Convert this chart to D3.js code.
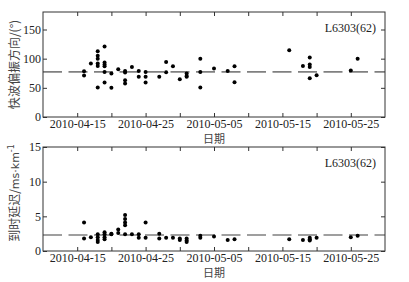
<!DOCTYPE html>
<html lang="zh">
<head>
  <meta charset="UTF-8">
  <title>L6303 splitting</title>
  <style>
  body { margin: 0; background: #fff; }
  .tick line { stroke: #333; }
  .frame { fill: none; stroke: #333; stroke-width: 1; }
  .mean { stroke: #808080; stroke-width: 1.6; stroke-dasharray: 19 6.5; }
  .cn { font-family: "Noto Sans CJK SC", sans-serif; font-size: 12px; fill: #444; }
  .tag { font-family: "Liberation Serif", serif; font-size: 12px; fill: #222; }
  </style>
</head>
<body>
  <script src="https://d3js.org/d3.v7.min.js"></script>
  <script>

    // fast wave polarisation (deg)
    var topDays = ["04-16","04-16","04-17","04-18","04-18","04-18","04-18","04-18","04-18",
                   "04-19","04-19","04-19","04-19","04-19","04-19","04-20","04-20","04-21",
                   "04-22","04-22","04-22","04-22","04-23","04-24","04-24","04-25","04-25","04-25",
                   "04-27","04-28","04-28","04-29","04-30","05-01","05-01","05-01",
                   "05-03","05-03","05-03","05-05","05-07","05-08","05-08","05-16","05-18",
                   "05-19","05-19","05-19","05-19","05-20","05-25","05-26"];
    var topVals = [78.5, 71, 91.6, 112.6, 105, 100, 91.6, 87.5, 50.7,
                   121, 93.3, 90, 87, 77.3, 59.2, 74.6, 50, 81.9,
                   79, 76.3, 63.1, 57.5, 85.8, 79, 68.8, 77.3, 68.8, 59.2,
                   68.8, 94.4, 76.8, 87, 64.8, 74.6, 70.5, 68.8,
                   100, 77.3, 50.7, 83.1, 79, 87, 59.7, 114.3, 87.5,
                   101.9, 89.9, 85.8, 66.6, 71.7, 79.7, 100];
    var topMean = 77.3;

    // delay time (ms/km)
    var botDays = ["04-16","04-16","04-17","04-18","04-18","04-18","04-18",
                   "04-19","04-19","04-19","04-19","04-20","04-20","04-21","04-21",
                   "04-22","04-22","04-22","04-22","04-22","04-23","04-24","04-24","04-25","04-25",
                   "04-27","04-27","04-28","04-29","04-30","04-30","05-01","05-01","05-01",
                   "05-03","05-03","05-05","05-07","05-08","05-16","05-18",
                   "05-19","05-19","05-19","05-20","05-25","05-26"];
    var botVals = [4.1, 1.8, 2.0, 2.4, 2.0, 1.6, 1.3,
                   2.7, 2.4, 2.0, 1.7, 2.5, 2.4, 3.1, 2.6,
                   5.2, 4.6, 4.1, 3.7, 2.4, 2.4, 2.4, 1.9, 4.1, 1.9,
                   2.5, 1.8, 1.9, 1.9, 1.8, 1.6, 1.8, 1.5, 1.3,
                   2.2, 1.9, 2.1, 1.6, 1.7, 1.7, 1.6,
                   1.9, 1.7, 1.5, 1.9, 2.0, 2.2];
    var botMean = 2.3;

    var tickDays = ["04-15","04-20","04-25","04-30","05-05","05-10","05-15","05-20","05-25"];
    var labelDays = ["04-15","04-25","05-05","05-15","05-25"];
    var topTicks = [0, 50, 100, 150];
    var botTicks = [0, 5, 10, 15];

    function day(s) { return new Date(Date.UTC(2010, +s.slice(0, 2) - 1, +s.slice(3))); }

    var width = 409, height = 282;
    var svg = d3.select("body").append("svg")
        .attr("width", width)
        .attr("height", height);

    var x = d3.scaleUtc()
        .domain([day("04-10"), day("05-30")])
        .range([43, 385]);

    var labelSet = labelDays.map(function(d){ return +day(d); });
    var fmt = d3.utcFormat("%Y-%m-%d");

    function tidy(a) {
      a.select(".domain").remove();
      a.attr("font-family", "Liberation Serif").attr("font-size", 12);
      a.selectAll(".tick text").attr("fill", "#222");
    }

    function panel(y0, y1, yMax, yTicks, days, vals, mean, ylabel) {
      var y = d3.scaleLinear().domain([0, yMax]).range([y1, y0]);
      var g = svg.append("g");

      var ticks = tickDays.map(day);
      g.append("g").attr("transform", "translate(0," + y1 + ")")
        .call(d3.axisBottom(x).tickValues(ticks).tickSize(-4).tickPadding(2)
          .tickFormat(function(d){ return labelSet.indexOf(+d) >= 0 ? fmt(d) : ""; }))
        .call(tidy);
      g.append("g").attr("transform", "translate(0," + y0 + ")")
        .call(d3.axisTop(x).tickValues(ticks).tickSize(-4).tickFormat(""))
        .call(tidy);
      g.append("g").attr("transform", "translate(43,0)")
        .call(d3.axisLeft(y).tickValues(yTicks).tickSize(-4).tickPadding(2))
        .call(tidy);
      g.append("g").attr("transform", "translate(385,0)")
        .call(d3.axisRight(y).tickValues(yTicks).tickSize(-4).tickFormat(""))
        .call(tidy);

      g.append("line").attr("class", "mean")
        .attr("x1", 43).attr("x2", 385)
        .attr("y1", y(mean)).attr("y2", y(mean));

      g.append("g").selectAll("circle")
        .data(vals)
        .enter().append("circle")
          .attr("cx", function(d, i){ return x(day(days[i])); })
          .attr("cy", function(d){ return y(d); })
          .attr("r", 2)
          .attr("fill", "#000");

      g.append("rect").attr("class", "frame")
        .attr("x", 43).attr("y", y0)
        .attr("width", 342).attr("height", y1 - y0);

      g.append("text").attr("class", "tag")
        .attr("x", 376).attr("y", y0 + 20)
        .attr("text-anchor", "end")
        .text("L6303(62)");

      g.append("text").attr("class", "cn")
        .attr("x", 214).attr("y", y1 + 26)
        .attr("text-anchor", "middle")
        .style("font-size", "11px")
        .text("日期");

      var yl = g.append("text").attr("class", "cn")
        .attr("transform", "translate(19," + ((y0 + y1) / 2) + ") rotate(-90)")
        .attr("text-anchor", "middle");
      ylabel(yl);
    }

    panel(12, 117, 180, topTicks, topDays, topVals, topMean, function(t){
      t.text("快波偏振方向/(°)");
    });

    panel(147, 251, 15, botTicks, botDays, botVals, botMean, function(t){
      t.attr("transform", "translate(19,193) rotate(-90)");
      t.append("tspan").text("到时延迟/");
      t.append("tspan").style("font-family", "'DejaVu Sans', sans-serif").style("font-size", "11px").text("ms·km");
      t.append("tspan").style("font-family", "'DejaVu Sans', sans-serif").style("font-size", "8px")
        .attr("dy", -5).text("-1");
    });

  </script>
</body>
</html>
